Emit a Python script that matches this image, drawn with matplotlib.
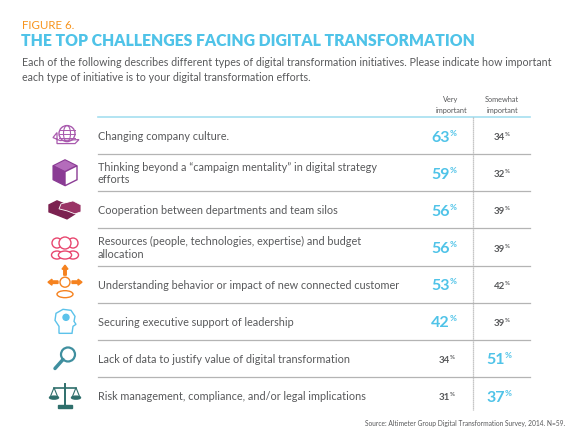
import matplotlib
matplotlib.use("Agg")
import matplotlib.pyplot as plt
from matplotlib.patches import Circle, Ellipse, Polygon, FancyArrow, Rectangle

plt.rcParams["font.family"] = ["Lato", "DejaVu Sans"]

LABELS = [
    "Changing company culture.",
    "Thinking beyond a \u201ccampaign mentality\u201d in digital strategy\nefforts",
    "Cooperation between departments and team silos",
    "Resources (people, technologies, expertise) and budget\nallocation",
    "Understanding behavior or impact of new connected customer",
    "Securing executive support of leadership",
    "Lack of data to justify value of digital transformation",
    "Risk management, compliance, and/or legal implications",
]
VERY = [63, 59, 56, 56, 53, 42, 34, 31]
SOMEWHAT = [34, 32, 39, 39, 42, 39, 51, 37]
ICON_COLORS = ["#a95aae", "#8a3b94", "#7b2150", "#e8476f",
               "#f5821f", "#5cc2ea", "#3f8f9f", "#2f6f6c"]

CYAN = "#4fc3e8"
ORANGE = "#f7941d"
GRAY = "#58595b"
LINE = "#b4b4b4"

W, H = 580, 435
fig = plt.figure(figsize=(W / 100, H / 100), dpi=100)
ax = fig.add_axes([0, 0, 1, 1])
ax.set_xlim(0, W)
ax.set_ylim(H, 0)
ax.axis("off")

ax.text(22, 29, "FIGURE 6.", color=ORANGE, fontsize=8.3, va="baseline")
ax.text(21, 46, "THE TOP CHALLENGES FACING DIGITAL TRANSFORMATION",
        color=CYAN, fontsize=11.3, fontweight="heavy", va="baseline")
ax.text(22, 66, "Each of the following describes different types of digital "
        "transformation initiatives. Please indicate how important",
        color=GRAY, fontsize=7.7, va="baseline")
ax.text(22, 81, "each type of initiative is to your digital transformation efforts.",
        color=GRAY, fontsize=7.7, va="baseline")

# column headers
for xc, (a, b) in ((451, ("Very", "important")), (502, ("Somewhat", "important"))):
    ax.text(xc, 102, a, color=GRAY, fontsize=5.3, ha="center", va="baseline")
    ax.text(xc, 113, b, color=GRAY, fontsize=5.3, ha="center", va="baseline")

top, step = 118, 37.15
x0, x1, xv = 98, 530, 473
ax.plot([x0, x1], [top, top], color="#a6dff0", lw=1.2)
n = len(LABELS)
for i in range(1, n):
    y = top + i * step
    ax.plot([x0, x1], [y, y], color=LINE, lw=0.9)
ax.plot([xv, xv], [top, top + n * step - 4], color=LINE, lw=0.9, ls=(0, (1, 0.6)))


def pct(x, y, v, big):
    if big:
        ax.text(x, y + 5, str(v), color=CYAN, fontsize=11.5, fontweight="bold",
                ha="right", va="baseline")
        ax.text(x - 0.4, y - 1, "%", color=CYAN, fontsize=6, fontweight="bold",
                ha="left", va="baseline")
    else:
        ax.text(x, y + 3.5, str(v), color=GRAY, fontsize=7, fontweight="bold",
                ha="right", va="baseline")
        ax.text(x - 0.4, y - 0.5, "%", color=GRAY, fontsize=4.3, fontweight="bold",
                ha="left", va="baseline")


def icon(k, cx, cy, c):
    if k == 0:  # globe
        ax.add_patch(Circle((cx + 2, cy - 2), 8, fill=False, ec=c, lw=1))
        ax.add_patch(Ellipse((cx + 2, cy - 2), 7, 16, fill=False, ec=c, lw=0.8))
        for d in (-4, 0, 4):
            ax.plot([cx - 6, cx + 10], [cy - 2 + d, cy - 2 + d], color=c, lw=0.7)
        ax.add_patch(Polygon([(cx - 12, cy + 2), (cx - 8, cy - 3), (cx - 8, cy + 8),
                              (cx + 10, cy + 8), (cx + 14, cy + 4), (cx - 5, cy + 5)],
                             fill=False, ec=c, lw=0.9))
    elif k == 1:  # box
        ax.add_patch(Polygon([(cx - 12, cy - 7), (cx, cy - 13), (cx + 12, cy - 7),
                              (cx, cy - 1)], fc="#b46cbb", ec=c, lw=0.8))
        ax.add_patch(Polygon([(cx - 12, cy - 7), (cx, cy - 1), (cx, cy + 13),
                              (cx - 12, cy + 7)], fc=c, ec=c, lw=0.8))
        ax.add_patch(Polygon([(cx, cy - 1), (cx + 12, cy - 7), (cx + 12, cy + 7),
                              (cx, cy + 13)], fc="white", ec=c, lw=1))
    elif k == 2:  # handshake
        ax.add_patch(Polygon([(cx - 16, cy - 5), (cx - 8, cy - 9), (cx + 4, cy - 4),
                              (cx + 10, cy + 4), (cx + 2, cy + 9), (cx - 8, cy + 5),
                              (cx - 16, cy + 2)], fc=c, ec=c))
        ax.add_patch(Polygon([(cx + 16, cy - 5), (cx + 8, cy - 9), (cx - 4, cy - 6),
                              (cx - 6, cy - 1), (cx + 2, cy + 1), (cx + 10, cy + 4),
                              (cx + 16, cy + 2)], fc="#9a3466", ec="white", lw=0.6))
    elif k == 3:  # people
        for dx, s in ((-8, 5), (8, 5), (0, 6)):
            ax.add_patch(Circle((cx + dx, cy - 4), s, fc="white", ec=c, lw=1))
            ax.add_patch(Ellipse((cx + dx, cy + 8), 2.2 * s, 8, fc="white",
                                 ec=c, lw=1))
    elif k == 4:  # person with arrows
        ax.add_patch(Circle((cx, cy - 2), 5, fill=False, ec=c, lw=1))
        ax.add_patch(Ellipse((cx, cy + 10), 16, 7, fill=False, ec=c, lw=1))
        for dx, dy in ((0, -1), (-1, 0), (1, 0)):
            ax.add_patch(FancyArrow(cx + dx * 7, cy - 2 + dy * 7, dx * 6, dy * 6,
                                    width=2.5, head_width=6, head_length=4,
                                    fc=c, ec=c))
    elif k == 5:  # head with bulb
        ax.add_patch(Polygon([(cx - 6, cy + 12), (cx - 6, cy + 5), (cx - 10, cy - 1),
                              (cx - 9, cy - 8), (cx - 2, cy - 12), (cx + 6, cy - 11),
                              (cx + 10, cy - 5), (cx + 9, cy), (cx + 11, cy + 3),
                              (cx + 8, cy + 5), (cx + 7, cy + 12)],
                             fill=False, ec=c, lw=1))
        ax.add_patch(Circle((cx + 1, cy - 4), 3, fc=c, ec=c))
    elif k == 6:  # magnifier
        ax.add_patch(Circle((cx + 3, cy - 4), 7, fc="white", ec=c, lw=1.6))
        ax.plot([cx - 2, cx - 10], [cy + 1, cy + 10], color=c, lw=2.5,
                solid_capstyle="round")
    else:  # scales
        ax.plot([cx, cx], [cy - 12, cy + 10], color=c, lw=1.4)
        ax.plot([cx - 11, cx + 11], [cy - 8, cy - 8], color=c, lw=1.2)
        ax.add_patch(Rectangle((cx - 7, cy + 9), 14, 3, fc=c, ec=c))
        for sx in (-1, 1):
            ax.add_patch(Polygon([(cx + sx * 11, cy - 8), (cx + sx * 15, cy + 2),
                                  (cx + sx * 7, cy + 2)], fill=False, ec=c, lw=0.8))
            ax.add_patch(Ellipse((cx + sx * 11, cy + 2), 9, 3, fc=c, ec=c))


for i, (lab, v, s) in enumerate(zip(LABELS, VERY, SOMEWHAT)):
    yc = top + (i + 0.5) * step
    ax.text(x0, yc, lab, color=GRAY, fontsize=7.8, va="center", linespacing=1.15)
    pct(450, yc, v, v >= s)
    pct(505, yc, s, s > v)
    icon(i, 65, yc, ICON_COLORS[i])

ax.text(565, 426, "Source: Altimeter Group Digital Transformation Survey, 2014. N=59.",
        color=GRAY, fontsize=4.8, ha="right", va="baseline")

fig.savefig("out.png", dpi=100)
